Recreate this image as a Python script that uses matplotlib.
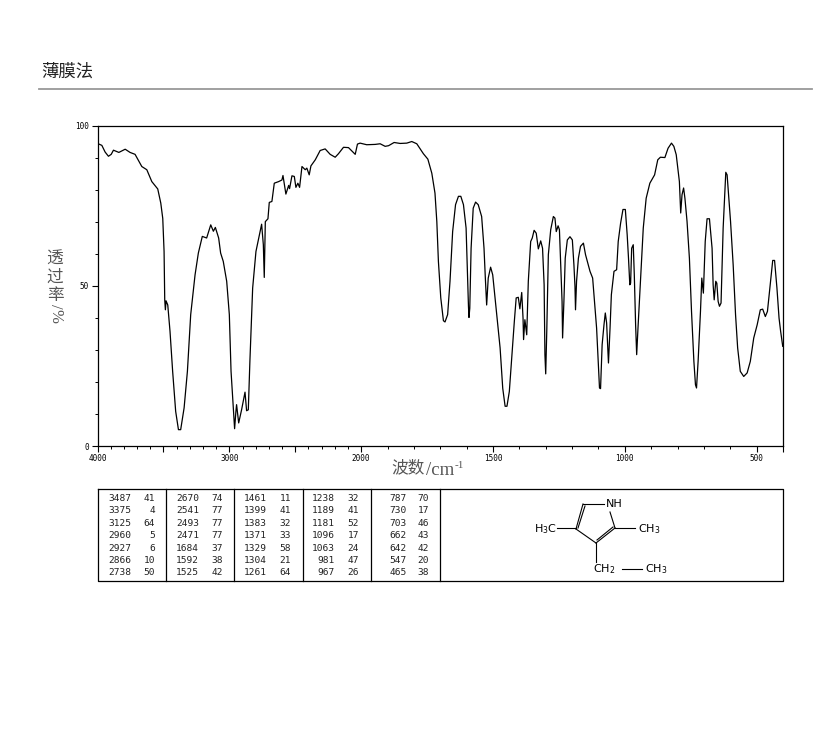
import numpy as np
import matplotlib
matplotlib.use('Agg')
import matplotlib.pyplot as plt
from matplotlib.ticker import FixedLocator, FixedFormatter

wavenumber = [
    4000, 3967, 3942, 3917, 3896, 3879, 3838, 3790, 3753, 3715, 3664, 3626, 3588, 3543, 3520, 3505, 3495, 3490, 3485, 3480,
    3467, 3450, 3430, 3407, 3386, 3369, 3343, 3318, 3293, 3260, 3235, 3205, 3172, 3141, 3121, 3106, 3081, 3066, 3046, 3020,
    3000, 2987, 2970, 2960, 2950, 2945, 2929, 2907, 2881, 2869, 2856, 2844, 2823, 2798, 2755, 2742, 2735, 2727, 2707, 2697,
    2677, 2659, 2626, 2601, 2593, 2571, 2550, 2543, 2525, 2507, 2495, 2480, 2467, 2449, 2424, 2412, 2394, 2381, 2348, 2311,
    2273, 2235, 2197, 2172, 2134, 2096, 2045, 2028, 2008, 1979, 1947, 1928, 1909, 1896, 1875, 1852, 1827, 1808, 1789, 1764,
    1747, 1732, 1720, 1713, 1707, 1698, 1688, 1682, 1672, 1663, 1653, 1642, 1631, 1622, 1612, 1602, 1597, 1593, 1591, 1588,
    1583, 1575, 1566, 1556, 1543, 1534, 1529, 1524, 1518, 1509, 1501, 1486, 1473, 1463, 1454, 1447, 1438, 1429, 1419, 1412,
    1404, 1398, 1391, 1386, 1384, 1379, 1372, 1366, 1357, 1351, 1344, 1336, 1328, 1319, 1312, 1306, 1303, 1300, 1296, 1290,
    1281, 1271, 1265, 1260, 1253, 1248, 1243, 1238, 1236, 1231, 1226, 1218, 1208, 1199, 1193, 1189, 1187, 1183, 1176, 1168,
    1157, 1149, 1132, 1122, 1115, 1107, 1101, 1096, 1092, 1086, 1079, 1074, 1069, 1065, 1062, 1056, 1051, 1041, 1031, 1025,
    1016, 1007, 998, 991, 986, 981, 978, 974, 968, 964, 959, 955, 950, 940, 930, 919, 905, 887, 875, 865,
    848, 836, 823, 814, 805, 793, 788, 783, 777, 772, 764, 755, 747, 738, 732, 728, 722, 713, 708, 702,
    695, 688, 679, 669, 665, 661, 655, 651, 646, 641, 635, 627, 617, 612, 599, 589, 580, 572, 562, 549,
    536, 524, 511, 498, 486, 477, 467, 459, 450, 439, 432, 423, 415, 409, 401,
]
transmittance = [
    94.4, 93.8, 91.7, 90.4, 91.0, 92.3, 91.6, 92.6, 91.6, 91.0, 87.2, 86.2, 82.5, 80.2, 75.8, 71.0, 60.7, 45.6, 42.5, 45.3,
    44.0, 35.8, 23.3, 10.8, 5.1, 5.1, 11.9, 23.3, 41.0, 53.4, 60.2, 65.4, 64.9, 69.0, 67.0, 68.2, 64.9, 60.2, 57.6, 51.4,
    41.0, 23.3, 11.9, 5.4, 10.8, 12.9, 7.2, 11.3, 16.8, 11.0, 11.3, 26.4, 49.3, 60.7, 69.2, 62.8, 52.6, 70.0, 70.9, 76.0,
    76.3, 82.0, 82.5, 83.0, 84.4, 78.6, 81.3, 80.3, 84.3, 84.1, 80.7, 82.0, 80.7, 87.2, 86.2, 86.7, 84.6, 87.4, 89.3, 92.2,
    92.7, 91.0, 90.1, 91.2, 93.2, 93.1, 91.0, 94.2, 94.5, 94.0, 94.1, 94.3, 93.5, 93.7, 94.7, 94.4, 94.5, 95.0, 94.3, 91.2,
    89.5, 85.1, 78.9, 70.0, 57.6, 46.2, 39.1, 38.7, 41.0, 51.4, 66.9, 75.3, 77.9, 77.9, 75.3, 68.0, 54.5, 43.6, 40.1, 43.0,
    61.7, 74.2, 76.1, 75.3, 71.6, 61.7, 52.4, 44.0, 52.4, 55.8, 53.4, 41.0, 30.6, 18.0, 12.4, 12.4, 17.0, 27.4, 38.9, 46.2,
    46.4, 42.8, 47.9, 39.9, 33.2, 39.4, 34.7, 51.4, 63.8, 64.9, 67.3, 66.4, 61.5, 64.0, 61.7, 50.3, 28.5, 22.5, 35.8, 59.7,
    67.5, 71.6, 71.1, 66.9, 68.7, 67.5, 56.5, 45.1, 33.7, 45.1, 58.6, 64.3, 65.3, 64.3, 56.5, 49.8, 42.5, 51.4, 58.6, 62.3,
    63.3, 59.7, 54.5, 52.4, 45.1, 36.8, 26.4, 18.1, 17.9, 31.6, 37.8, 41.5, 38.4, 31.6, 25.9, 36.8, 47.2, 54.5, 55.0, 63.8,
    69.5, 73.8, 73.8, 65.9, 58.6, 50.3, 50.8, 61.7, 62.8, 53.4, 37.8, 28.5, 36.8, 52.4, 68.0, 77.3, 82.0, 84.6, 89.3, 90.1,
    90.0, 92.9, 94.5, 93.5, 90.9, 82.5, 72.7, 78.4, 80.5, 77.3, 70.1, 58.6, 42.0, 26.4, 19.1, 18.1, 26.4, 42.0, 52.4, 47.7,
    63.8, 70.9, 70.9, 61.7, 50.3, 45.6, 51.4, 50.8, 45.1, 43.6, 44.6, 68.0, 85.4, 84.6, 70.1, 56.5, 41.0, 30.6, 23.3, 21.7,
    22.8, 26.4, 33.7, 37.8, 42.5, 42.7, 40.4, 42.0, 49.3, 57.9, 57.9, 49.3, 39.9, 35.8, 31.1,
]

peak_columns = [
    [('3487', '41'), ('3375', '4'), ('3125', '64'), ('2960', '5'), ('2927', '6'), ('2866', '10'), ('2738', '50')],
    [('2670', '74'), ('2541', '77'), ('2493', '77'), ('2471', '77'), ('1684', '37'), ('1592', '38'), ('1525', '42')],
    [('1461', '11'), ('1399', '41'), ('1383', '32'), ('1371', '33'), ('1329', '58'), ('1304', '21'), ('1261', '64')],
    [('1238', '32'), ('1189', '41'), ('1181', '52'), ('1096', '17'), ('1063', '24'), ('981', '47'), ('967', '26')],
    [('787', '70'), ('730', '17'), ('703', '46'), ('662', '43'), ('642', '42'), ('547', '20'), ('465', '38')],
]

W, H = 822, 737


# the wavenumber axis is twice as stretched below 2000
def forward(x):
    x = np.asarray(x, dtype=float)
    return np.where(x >= 2000, x, 2000 - (2000 - x) * 2)


def inverse(u):
    u = np.asarray(u, dtype=float)
    return np.where(u >= 2000, u, 2000 - (2000 - u) / 2)


fig = plt.figure(figsize=(W / 100, H / 100), dpi=100)
plt.rcParams['font.family'] = ['Noto Sans CJK SC', 'DejaVu Sans']

# overlay in pixel coordinates for the page furniture
page = fig.add_axes([0, 0, 1, 1])
page.set_xlim(0, W)
page.set_ylim(H, 0)
page.axis('off')

page.text(41, 72, '薄膜法', fontsize=12.5, ha='left', va='center', color='#222222')
page.plot([39, 812], [88.5, 88.5], color='#999999', lw=1.3)

# spectrum
ax = fig.add_axes([97.5 / W, 1 - 446 / H, (783 - 97.5) / W, (446 - 125.5) / H])
ax.set_xscale('function', functions=(forward, inverse))
ax.set_xlim(4000, 400)
ax.set_ylim(0, 100)
ax.plot(wavenumber, transmittance, color='black', lw=0.9)

for side in ['top', 'bottom', 'left', 'right']:
    ax.spines[side].set_linewidth(0.9)

major_x = [4000, 3500, 3000, 2500, 2000, 1500, 1000, 500, 400]
label_x = ['4000', '', '3000', '', '2000', '1500', '1000', '500', '']
minor_x = [v for v in range(3900, 2000, -100)] + [v for v in range(1900, 400, -100)]
ax.xaxis.set_major_locator(FixedLocator(major_x))
ax.xaxis.set_major_formatter(FixedFormatter(label_x))
ax.xaxis.set_minor_locator(FixedLocator(minor_x))
ax.xaxis.set_minor_formatter(FixedFormatter([]))
ax.set_yticks([0, 50, 100])
ax.set_yticklabels(['0', '50', '100'])
ax.set_yticks(range(10, 100, 10), minor=True)
ax.tick_params(axis='both', which='major', length=4, width=0.8, labelsize=5.5, pad=2)
ax.tick_params(axis='both', which='minor', length=2, width=0.7)
for lab in ax.get_xticklabels() + ax.get_yticklabels():
    lab.set_family('DejaVu Sans Mono')

# x label, drawn in pieces so the serif part can sit next to the CJK part
label_grey = '#555555'
page.text(408, 468, '波数', fontsize=12, ha='center', va='center', color=label_grey)
page.text(426, 475, '/cm', family='Liberation Serif', fontsize=13.5, ha='left', va='baseline', color=label_grey)
page.text(455, 468, '-1', family='Liberation Serif', fontsize=8, ha='left', va='baseline', color=label_grey)

# y label: characters stay upright, stacked
for y, ch in [(259, '透'), (277, '过'), (295, '率')]:
    page.text(55, y, ch, fontsize=12, ha='center', va='center', color=label_grey)
page.text(55, 306, '/', family='Liberation Serif', fontsize=12, rotation=-90, ha='center', va='center', color=label_grey)
page.text(55, 316, '%', family='Liberation Serif', fontsize=12, rotation=-90, ha='center', va='center', color=label_grey)

# peak table
table_left, table_right, table_top, table_bottom = 97.5, 783, 489, 581
page.plot([table_left, table_right, table_right, table_left, table_left],
          [table_top, table_top, table_bottom, table_bottom, table_top], color='black', lw=0.9)
for x in [166, 234, 303, 371, 440]:
    page.plot([x, x], [table_top, table_bottom], color='black', lw=0.9)

col_right_wn = [131, 199, 267, 335, 407]
col_right_t = [155, 223, 291, 359, 429]
for i, col in enumerate(peak_columns):
    for j, (wn, t) in enumerate(col):
        y = 498.5 + j * 12.4
        page.text(col_right_wn[i], y, wn, family='DejaVu Sans Mono', fontsize=6.8, ha='right', va='center', color='#222222')
        page.text(col_right_t[i], y, t, family='DejaVu Sans Mono', fontsize=6.8, ha='right', va='center', color='#222222')

# 2,4-dimethyl-3-ethylpyrrole structure
bonds = [
    (583, 504, 604, 504), (610, 512, 615, 528), (615, 528, 596, 543),
    (596, 543, 576, 529), (576, 529, 583, 504), (578, 528, 585, 506),
    (597, 540, 613, 527), (615, 528, 635, 528), (557, 528, 576, 528),
    (596, 543, 596, 562), (622, 569, 642, 569),
]
for x0, y0, x1, y1 in bonds:
    page.plot([x0, x1], [y0, y1], color='black', lw=0.8)
sans = 'DejaVu Sans'
page.text(606, 504, 'NH', family=sans, fontsize=8, va='center', ha='left')
page.text(534, 529, 'H$_3$C', family=sans, fontsize=8, va='center', ha='left')
page.text(638, 529, 'CH$_3$', family=sans, fontsize=8, va='center', ha='left')
page.text(593, 569, 'CH$_2$', family=sans, fontsize=8, va='center', ha='left')
page.text(645, 569, 'CH$_3$', family=sans, fontsize=8, va='center', ha='left')

fig.savefig('out.png', dpi=100)
